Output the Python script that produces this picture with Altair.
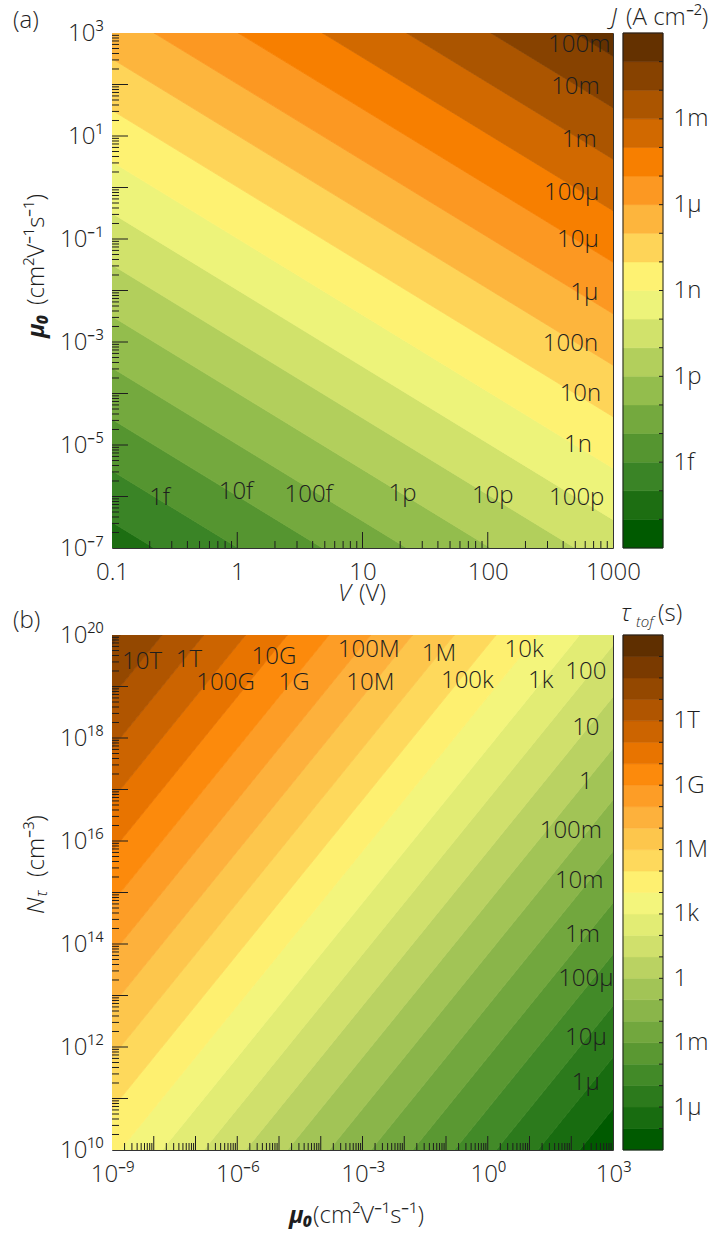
import math
import altair as alt
import pandas as pd

FONT = "Open Sans"
INK = "#1e1e1e"
FS = 24

# ---------------- panel (a): J over (V, mu0) ----------------
A_X_DOMAIN = [0.1, 1000]
A_Y_DOMAIN = [1e-7, 1e3]
A_LEVEL_EXP = [-18, -17, -16, -15, -14, -13, -12, -11, -10, -9, -8, -7, -6, -5, -4, -3, -2, -1, 0]
# log10(mu0) where each contour line meets V = 0.1 and V = 1000
A_LINE_LEFT = [-8.5, -7.5, -6.5, -5.5, -4.5, -3.5, -2.5, -1.5, -0.5, 0.5, 1.5, 2.5, 3.5,
               4.5, 5.5, 6.5, 7.5, 8.5, 9.5]
A_LINE_RIGHT = [-14.45, -13.45, -12.45, -11.45, -10.45, -9.45, -8.45, -7.45, -6.45, -5.45,
                -4.45, -3.45, -2.45, -1.45, -0.45, 0.55, 1.55, 2.55, 3.55]
A_COLORS = ["#005a00", "#1d6e12", "#3a8426", "#559530", "#74a93e", "#93bd4d", "#b2cf5c",
            "#d1e26b", "#edf37a", "#fef272", "#fed458", "#fdb53d", "#fc9822", "#f77f00",
            "#d16900", "#ab5500", "#874200", "#643100"]
A_LAB_TEXT = ["100m", "10m", "1m", "100μ", "10μ", "1μ", "100n", "10n", "1n", "100p",
              "10p", "1p", "100f", "10f", "1f"]
A_LAB_LOGX = [2.73, 2.70, 2.73, 2.67, 2.72, 2.77, 2.66, 2.74, 2.72, 2.71, 2.04, 1.32, 0.57, -0.01, -0.62]
A_LAB_LOGY = [2.76, 1.96, 0.93, -0.10, -1.02, -2.05, -3.04, -4.01, -5.00, -6.02, -5.99, -5.95,
              -5.97, -5.92, -6.02]
A_X_TICKS = [0.1, 1, 10, 100, 1000]
A_X_TICK_LABELS = ["0.1", "1", "10", "100", "1000"]
A_Y_TICKS = [1e3, 1e1, 1e-1, 1e-3, 1e-5, 1e-7]
A_Y_TICK_LABELS = ["10³", "10¹", "10⁻¹", "10⁻³", "10⁻⁵", "10⁻⁷"]
A_X_MAJOR = [1, 10, 100]
A_X_DECADES = [0.1, 1, 10, 100]
A_Y_MAJOR = [1e2, 1e1, 1, 1e-1, 1e-2, 1e-3, 1e-4, 1e-5, 1e-6]
A_Y_DECADES = [1e-7, 1e-6, 1e-5, 1e-4, 1e-3, 1e-2, 1e-1, 1, 1e1, 1e2]
A_CB_TICKS = [1e-3, 1e-6, 1e-9, 1e-12, 1e-15]
A_CB_LABELS = ["1m", "1μ", "1n", "1p", "1f"]

# ---------------- panel (b): tau_tof over (mu0, N_tau) ----------------
B_X_DOMAIN = [1e-9, 1e3]
B_Y_DOMAIN = [1e10, 1e20]
B_LEVEL_EXP = [-8, -7, -6, -5, -4, -3, -2, -1, 0, 1, 2, 3, 4, 5, 6, 7, 8, 9, 10, 11, 12, 13, 14, 15, 16]
# log10(N_tau) where each contour line meets mu0 = 1e-9 and mu0 = 1e3
B_LINE_LEFT = [-2.2, -1.2, -0.2, 0.8, 1.8, 2.8, 3.8, 4.8, 5.8, 6.8, 7.8, 8.8, 9.8, 10.8, 11.8,
               12.8, 13.8, 14.8, 15.8, 16.8, 17.8, 18.8, 19.8, 20.8, 21.8]
B_LINE_RIGHT = [9.8, 10.8, 11.8, 12.8, 13.8, 14.8, 15.8, 16.8, 17.8, 18.8, 19.8, 20.8, 21.8,
                22.8, 23.8, 24.8, 25.8, 26.8, 27.8, 28.8, 29.8, 30.8, 31.8, 32.8, 33.8]
B_COLORS = ["#005a00", "#186c10", "#2c7a1c", "#428a28", "#5a9832", "#72a73e", "#8ab54a",
            "#a2c456", "#bad262", "#d0e06c", "#e2ec74", "#f3f57c", "#fef070", "#fed95c",
            "#fdc64c", "#fdb13c", "#fd9d26", "#fc8a0c", "#e87400", "#cc6400", "#b05500",
            "#944800", "#7a3a00", "#5f2f00"]
B_LAB_TEXT = ["10T", "1T", "100G", "10G", "1G", "100M", "10M", "1M", "100k", "10k", "1k",
              "100", "10", "1", "100m", "10m", "1m", "100μ", "10μ", "1μ"]
B_LAB_LOGX = [-8.28, -7.16, -6.28, -5.12, -4.64, -2.85, -2.81, -1.17, -0.49, 0.87, 1.27,
              2.35, 2.35, 2.35, 1.99, 2.19, 2.27, 2.35, 2.35, 2.35]
B_LAB_LOGY = [19.48, 19.51, 19.06, 19.58, 19.06, 19.71, 19.06, 19.64, 19.10, 19.71, 19.10,
              19.28, 18.20, 17.15, 16.20, 15.22, 14.17, 13.32, 12.18, 11.30]
B_X_TICKS = [1e-9, 1e-6, 1e-3, 1, 1e3]
B_X_TICK_LABELS = ["10⁻⁹", "10⁻⁶", "10⁻³", "10⁰", "10³"]
B_Y_TICKS = [1e20, 1e18, 1e16, 1e14, 1e12, 1e10]
B_Y_TICK_LABELS = ["10²⁰", "10¹⁸", "10¹⁶", "10¹⁴", "10¹²", "10¹⁰"]
B_X_MAJOR = [1e-8, 1e-7, 1e-6, 1e-5, 1e-4, 1e-3, 1e-2, 1e-1, 1, 1e1, 1e2]
B_X_DECADES = [1e-9, 1e-8, 1e-7, 1e-6, 1e-5, 1e-4, 1e-3, 1e-2, 1e-1, 1, 1e1, 1e2]
B_Y_MAJOR = [1e11, 1e12, 1e13, 1e14, 1e15, 1e16, 1e17, 1e18, 1e19]
B_Y_DECADES = [1e10, 1e11, 1e12, 1e13, 1e14, 1e15, 1e16, 1e17, 1e18, 1e19]
B_CB_TICKS = [1e12, 1e9, 1e6, 1e3, 1, 1e-3, 1e-6]
B_CB_LABELS = ["1T", "1G", "1M", "1k", "1", "1m", "1μ"]

W, H = 501, 515
CB0, CB1 = 511, 551


def label_expr(values, labels):
    parts = [f"abs(log(datum.value)/LN10 - ({math.log10(v):.4f})) < 0.01 ? '{lab}'"
             for v, lab in zip(values, labels)]
    return " : ".join(parts) + " : ''"


def note(text, x, y, size=FS, angle=0, style="normal", weight=300, align="left"):
    return alt.Chart(pd.DataFrame({"t": [text]})).mark_text(
        align=align, baseline="middle", angle=angle, fontSize=size, font=FONT,
        fontStyle=style, fontWeight=weight, color=INK
    ).encode(x=alt.value(x), y=alt.value(y), text="t:N")


def minors(decades):
    return [m * d for d in decades for m in range(2, 10)]


def panel(xdom, ydom, xt, xtl, yt, ytl, left, right, colors, lab_t, lab_x, lab_y,
          xmaj, xdec, xmaj_len, ymaj, ydec, cb_exp, cb_t, cb_l, notes):
    xs = alt.Scale(type="log", domain=xdom, nice=False)
    ys = alt.Scale(type="log", domain=ydom, nice=False)
    xax = alt.Axis(values=xt, labelExpr=label_expr(xt, xtl), ticks=False, domain=False,
                   grid=False, labelPadding=12, labelFlush=False, labelOverlap=False,
                   labelBaseline="top")
    yax = alt.Axis(values=yt, labelExpr=label_expr(yt, ytl), ticks=False, domain=False,
                   grid=False, labelPadding=9, labelFlush=False, labelOverlap=False,
                   labelBaseline="middle")
    X = alt.X("x:Q", scale=xs, axis=xax, title=None)
    Y = alt.Y("y:Q", scale=ys, axis=yax, title=None)

    rows = []
    for i, c in enumerate(colors):
        rows.append({"band": i, "x": xdom[0], "y": 10 ** left[i], "y2": 10 ** left[i + 1], "c": c})
        rows.append({"band": i, "x": xdom[1], "y": 10 ** right[i], "y2": 10 ** right[i + 1], "c": c})
    bands = alt.Chart(pd.DataFrame(rows)).mark_area(clip=True, opacity=1, strokeWidth=0.8).encode(
        x=X, y=Y, y2="y2:Q", fill=alt.Fill("c:N", scale=None),
        stroke=alt.Stroke("c:N", scale=None), detail="band:N")

    def xr(vals, L):
        return alt.Chart(pd.DataFrame({"x": vals})).mark_rule(color=INK, strokeWidth=1).encode(
            x=X, y=alt.value(H), y2=alt.value(H - L))

    def yr(vals, L):
        return alt.Chart(pd.DataFrame({"y": vals})).mark_rule(color=INK, strokeWidth=1).encode(
            y=Y, x=alt.value(0), x2=alt.value(L))

    labs = alt.Chart(pd.DataFrame({"x": [10 ** v for v in lab_x], "y": [10 ** v for v in lab_y],
                                   "t": lab_t})).mark_text(
        fontSize=FS, font=FONT, fontWeight=300, color=INK, align="center", baseline="middle"
    ).encode(x=X, y=Y, text="t:N")

    main = alt.layer(bands, xr(xmaj, xmaj_len), xr(minors(xdec), 7), yr(ymaj, 16),
                     yr(minors(ydec), 7), labs)

    cs = alt.Scale(type="log", domain=[10 ** cb_exp[0], 10 ** cb_exp[-1]], nice=False)
    cax = alt.Axis(orient="right", offset=CB1 - W, values=cb_t, labelExpr=label_expr(cb_t, cb_l),
                   ticks=False, domain=False, grid=False, labelPadding=10, labelFlush=False,
                   labelOverlap=False, labelBaseline="middle", labelColor=INK)
    CY = alt.Y("y:Q", scale=cs, axis=cax, title=None)
    cbr = alt.Chart(pd.DataFrame({"y": [10 ** e for e in cb_exp[:-1]],
                                  "y2": [10 ** e for e in cb_exp[1:]], "c": colors})).mark_rect(
        strokeWidth=0.6).encode(x=alt.value(CB0), x2=alt.value(CB1), y=CY, y2="y2:Q",
                                fill=alt.Fill("c:N", scale=None), stroke=alt.Stroke("c:N", scale=None))
    cbt = alt.Chart(pd.DataFrame({"y": [10 ** e for e in cb_exp[1:-1]]})).mark_rule(
        color=INK, strokeWidth=1).encode(y=CY, x=alt.value(CB1 - 4), x2=alt.value(CB1))
    cbf = alt.Chart(pd.DataFrame({"y": [10 ** cb_exp[0]], "y2": [10 ** cb_exp[-1]]})).mark_rect(
        fillOpacity=0, stroke=INK, strokeWidth=1).encode(
        x=alt.value(CB0), x2=alt.value(CB1), y=CY, y2="y2:Q")
    cb = alt.layer(cbr, cbt, cbf)

    return alt.layer(main, cb, *notes).resolve_scale(y="independent").properties(width=W, height=H)


notes_a = [
    note("(a)", -99, -12),
    note("J", 499, -15, style="italic"),
    note("(A cm⁻²)", 514, -15),
    note("μ₀", -75, 305, angle=270, style="italic", weight="bold"),
    note("(cm²V⁻¹s⁻¹)", -75, 272, angle=270),
    note("V", 226, 561, style="italic"),
    note("(V)", 247, 561),
]
notes_b = [
    note("(b)", -99, -14),
    note("τ", 509, -21, style="italic"),
    note("tof", 524, -13, size=15, style="italic"),
    note("(s)", 546, -21),
    note("N", -75, 279, angle=270, style="italic"),
    note("τ", -70, 262, size=16, angle=270, style="italic"),
    note("(cm⁻³)", -75, 242, angle=270),
    note("μ₀", 177, 581, style="italic", weight="bold"),
    note("(cm²V⁻¹s⁻¹)", 201, 581),
]

pa = panel(A_X_DOMAIN, A_Y_DOMAIN, A_X_TICKS, A_X_TICK_LABELS, A_Y_TICKS, A_Y_TICK_LABELS,
           A_LINE_LEFT, A_LINE_RIGHT, A_COLORS, A_LAB_TEXT, A_LAB_LOGX, A_LAB_LOGY,
           A_X_MAJOR, A_X_DECADES, 16, A_Y_MAJOR, A_Y_DECADES, A_LEVEL_EXP,
           A_CB_TICKS, A_CB_LABELS, notes_a)
pb = panel(B_X_DOMAIN, B_Y_DOMAIN, B_X_TICKS, B_X_TICK_LABELS, B_Y_TICKS, B_Y_TICK_LABELS,
           B_LINE_LEFT, B_LINE_RIGHT, B_COLORS, B_LAB_TEXT, B_LAB_LOGX, B_LAB_LOGY,
           B_X_MAJOR, B_X_DECADES, 14, B_Y_MAJOR, B_Y_DECADES, B_LEVEL_EXP,
           B_CB_TICKS, B_CB_LABELS, notes_b)

chart = alt.vconcat(pa, pb, spacing=87, bounds="flush").properties(
    padding={"left": 12, "top": 5, "right": 0, "bottom": 0}
).configure_view(stroke="#333333", strokeWidth=1).configure_axis(
    labelFont=FONT, labelFontSize=FS, labelColor=INK, labelFontWeight=300
)

chart.save("out.html", embed_options={"renderer": "svg", "actions": False})
